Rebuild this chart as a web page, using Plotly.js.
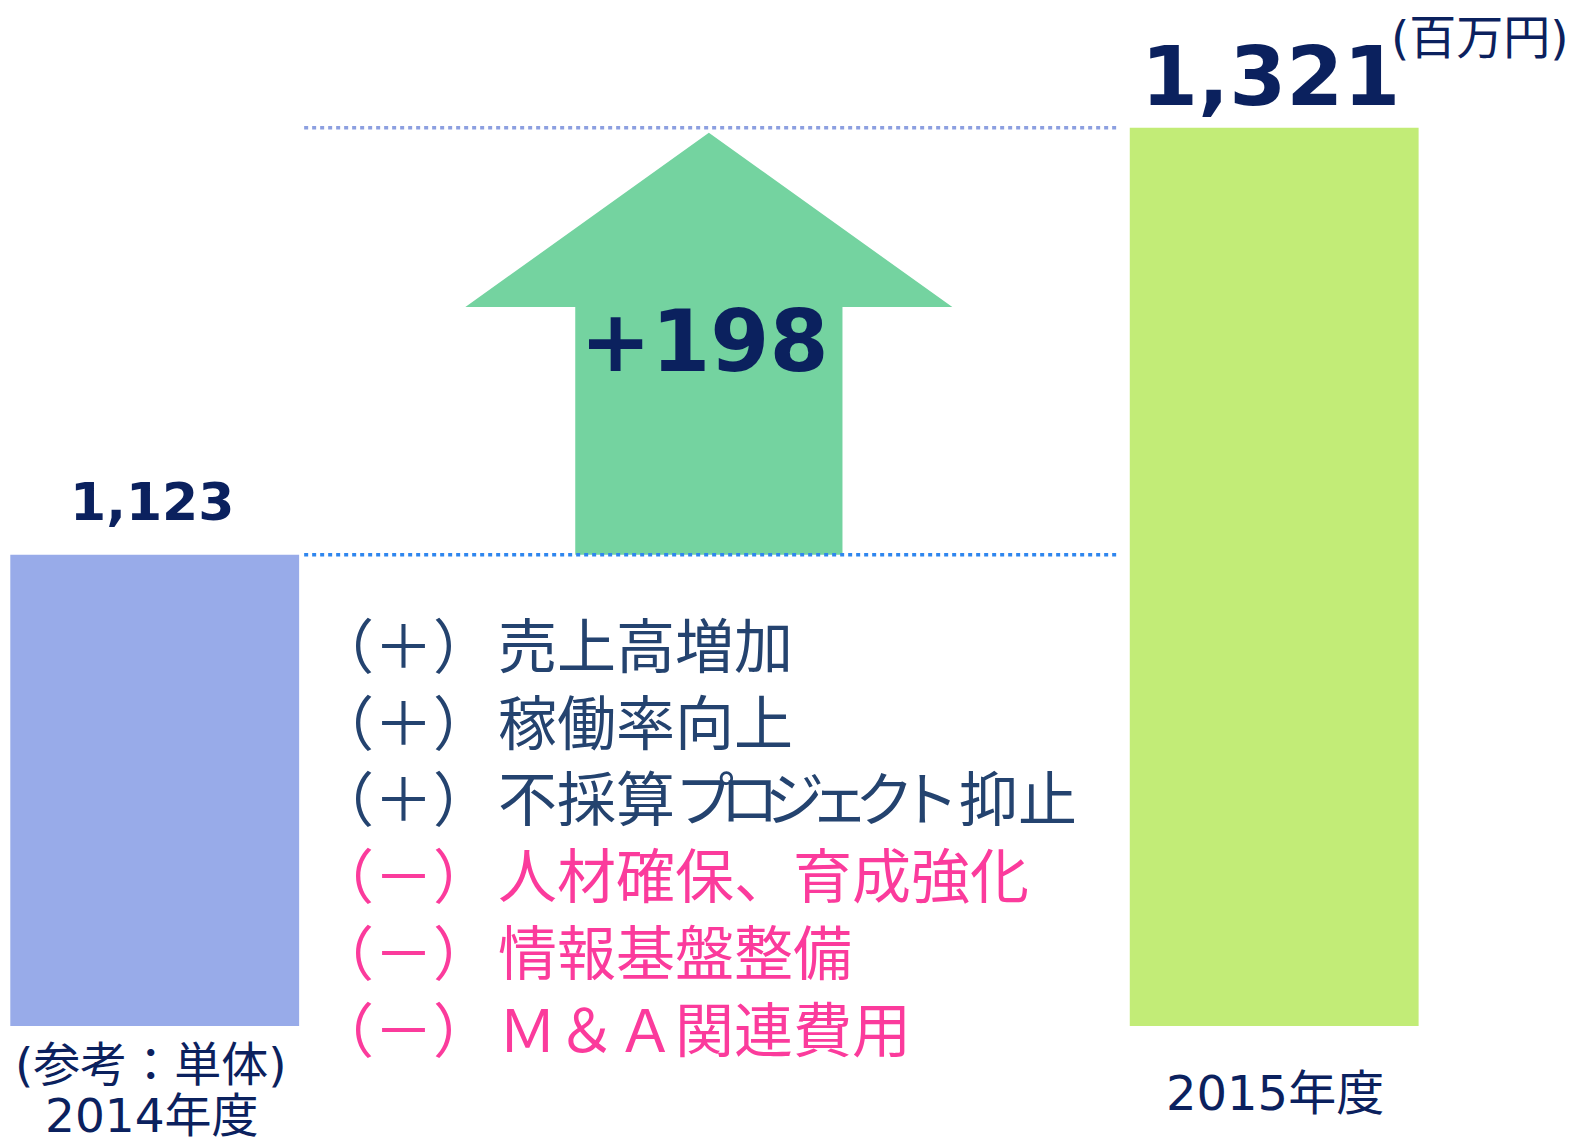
<!DOCTYPE html>
<html>
<head>
<meta charset="utf-8">
<script src="https://cdn.plot.ly/plotly-3.0.1.min.js"></script>
<style>html,body{margin:0;padding:0;background:#fff;overflow:hidden;}</style>
</head>
<body>
<div id="chart" style="width:1575px;height:1145px;"></div>
<script>
// ---- data ----
const periodLabels = ['2014年度', '2015年度'];
const periodNote = '(参考：単体)';
const profitValues = [1123, 1321];
const barColors = ['#98ABE9', '#C2EC77'];
const unitLabel = '(百万円)';
const factorSigns = ['＋', '＋', '＋', '－', '－', '－'];
const factorTexts = ['売上高増加', '稼働率向上', '不採算<span style="letter-spacing:-14px">プロジェク</span>ト抑止', '人材確保、育成強化', '情報基盤整備', 'Ｍ＆Ａ関連費用'];

// ---- layout helpers ----
const W = 1575, H = 1145, plotBottom = 1026;
const px = v => v / W;                          // pixel x -> paper
const py = v => (plotBottom - v) / plotBottom;  // pixel y -> paper
const navy = '#0B215E';
const plusCol = '#24436F', minusCol = '#FB3B9C';
const numFont = 'DejaVu Sans, Noto Sans CJK JP, sans-serif';
const jpFont = 'Noto Sans CJK JP, sans-serif';

const v0 = profitValues[0], v1 = profitValues[1];
const diff = v1 - v0;
const fmt = n => n.toLocaleString('en-US');

// bars
const bars = {
  type: 'bar', x: [0, 2], y: profitValues, width: 0.516,
  marker: {color: barColors, line: {width: 0}},
  hoverinfo: 'skip'
};

// arrow (from 2014 level up to 2015 level)
const ac = 0.99, shaftHW = 0.2387, headHW = 0.435;
const neck = v0 + 0.58 * diff, tip = v1 - 0.012 * diff;
const arrow = {
  type: 'scatter', mode: 'lines', fill: 'toself', fillcolor: '#74D3A0',
  line: {width: 0, color: '#74D3A0'},
  x: [ac - shaftHW, ac - shaftHW, ac - headHW, ac, ac + headHW, ac + shaftHW, ac + shaftHW, ac - shaftHW],
  y: [v0, neck, neck, tip, neck, neck, v0, v0],
  hoverinfo: 'skip'
};

// dotted reference lines
const lineX = [0.267, 1.721];
const lineTop = {type: 'scatter', mode: 'lines', x: lineX, y: [v1, v1],
  line: {color: '#8C9FE0', width: 3.5, dash: '4px,4px'}, hoverinfo: 'skip'};
const lineBase = {type: 'scatter', mode: 'lines', x: lineX, y: [v0, v0],
  line: {color: '#2F86EE', width: 3.5, dash: '4px,4px'}, hoverinfo: 'skip'};

const annotations = [];
function ann(text, x, y, font, opts) {
  annotations.push(Object.assign({
    text, xref: 'paper', yref: 'paper', x: px(x), y: py(y),
    xanchor: 'center', yanchor: 'middle', showarrow: false, font
  }, opts || {}));
}
// value labels
ann(fmt(v0), 152, 502, {family: numFont, size: 52, color: navy, weight: 'bold'});
ann(fmt(v1), 1270, 76, {family: numFont, size: 82, color: navy, weight: 'bold'});
ann(unitLabel, 1480, 37, {family: numFont, size: 47, color: navy});
ann((diff >= 0 ? '+' : '') + fmt(diff), 704, 341, {family: numFont, size: 85, color: navy, weight: 'bold'});
// period labels
ann(periodNote, 151, 1064, {family: numFont, size: 47, color: navy});
ann(periodLabels[0], 152, 1145, {family: numFont, size: 47, color: navy}, {yanchor: 'bottom'});
ann(periodLabels[1], 1275, 1093, {family: numFont, size: 48, color: navy});
// factor list (two aligned multi-line blocks)
const colOf = s => (s === '＋' ? plusCol : minusCol);
const prefixBlock = factorSigns.map(s => '<span style="color:' + colOf(s) + '">（' + s + '）</span>').join('<br>');
const textBlock = factorTexts.map((t, i) => '<span style="color:' + colOf(factorSigns[i]) + '">' + t + '</span>').join('<br>');
ann(prefixBlock, 313, 834, {family: jpFont, size: 59, color: plusCol}, {xanchor: 'left', align: 'left'});
ann(textBlock, 496, 834, {family: jpFont, size: 59, color: plusCol}, {xanchor: 'left', align: 'left'});

const layout = {
  width: W, height: H,
  margin: {l: 0, r: 0, t: 0, b: H - plotBottom, pad: 0},
  paper_bgcolor: '#ffffff', plot_bgcolor: '#ffffff',
  showlegend: false, hovermode: false,
  xaxis: {range: [-0.2764, 2.5374], visible: false, fixedrange: true},
  yaxis: {range: [904.5, 1380.2], visible: false, fixedrange: true},
  annotations
};

Plotly.newPlot('chart', [bars, arrow, lineTop, lineBase], layout, {displayModeBar: false, staticPlot: true});
</script>
</body>
</html>
